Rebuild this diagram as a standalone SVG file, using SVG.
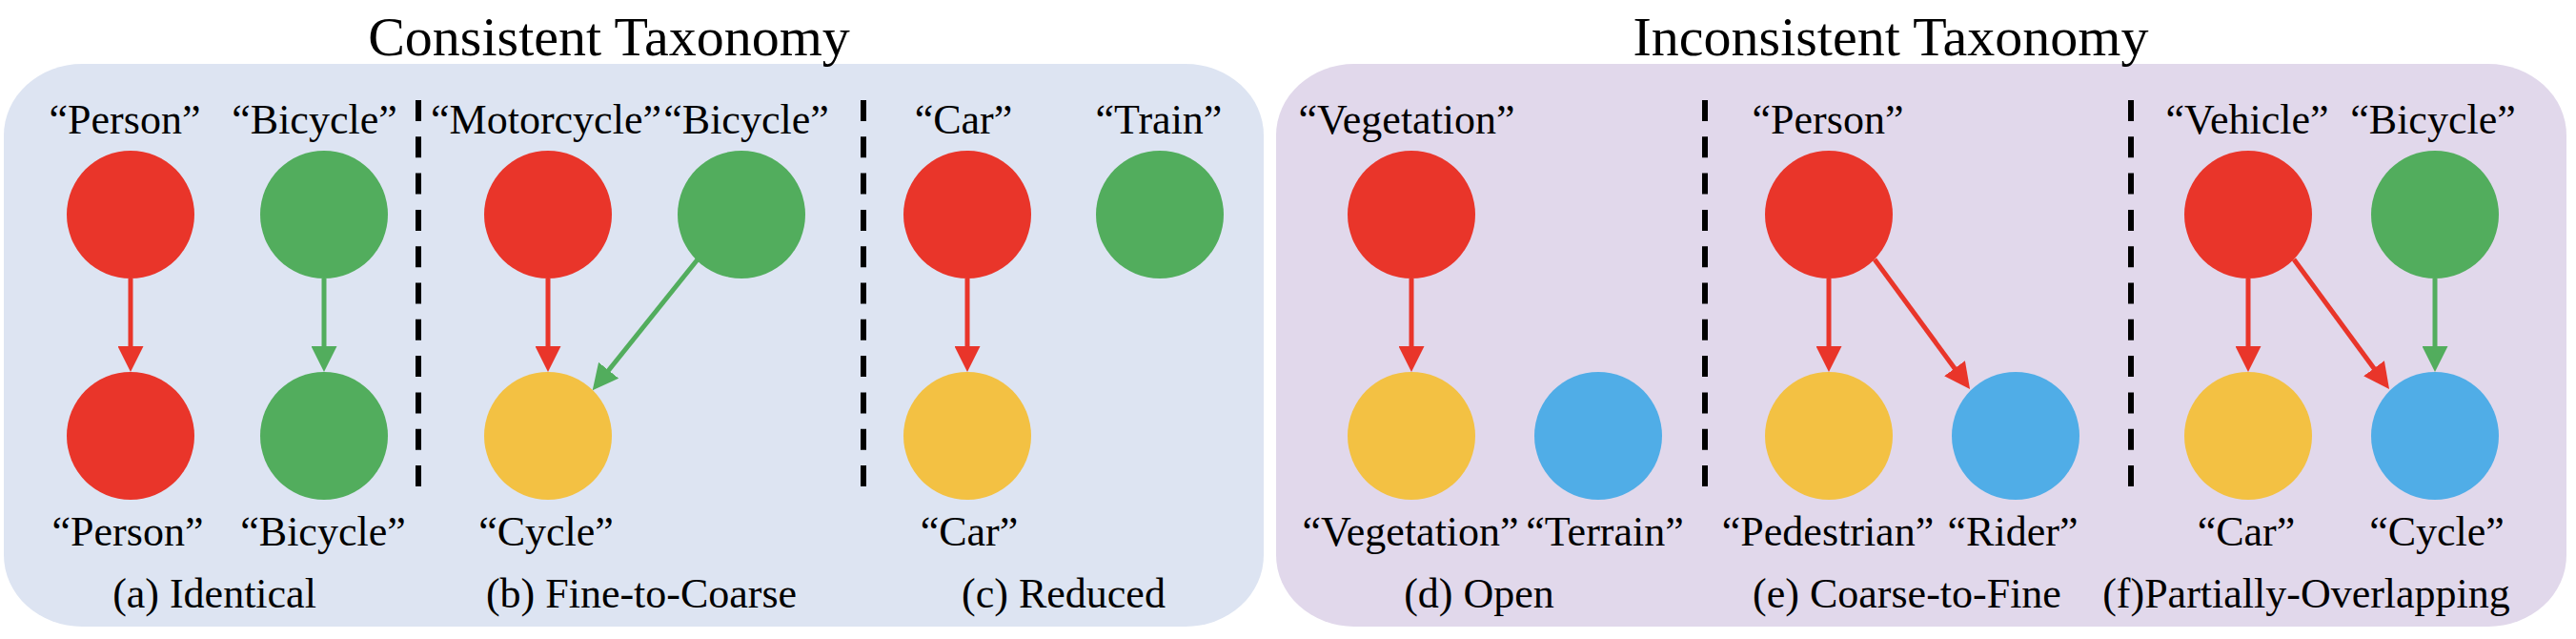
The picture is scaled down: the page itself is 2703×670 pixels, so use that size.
<svg xmlns="http://www.w3.org/2000/svg" width="2703" height="670" viewBox="0 0 2703 670">
<style>
text{font-family:"Liberation Serif","Times New Roman",serif;fill:#000;text-anchor:middle}
.t{font-size:58px}
.l{font-size:44px}
.red{fill:#E9352A}.green{fill:#52AD5D}.yellow{fill:#F3C143}.blue{fill:#50ADE7}
.ar{stroke:#E9352A;stroke-width:5;fill:none;marker-end:url(#hr)}
.ag{stroke:#52AD5D;stroke-width:5;fill:none;marker-end:url(#hg)}
.dash{stroke:#000;stroke-width:6;stroke-dasharray:22 16.3}
</style>
<defs>
<marker id="hr" viewBox="0 0 27 27" refX="17" refY="13.5" markerWidth="27" markerHeight="27" markerUnits="userSpaceOnUse" orient="auto"><path d="M0,0 L27,13.5 L0,27 Z" fill="#E9352A"/></marker>
<marker id="hg" viewBox="0 0 27 27" refX="17" refY="13.5" markerWidth="27" markerHeight="27" markerUnits="userSpaceOnUse" orient="auto"><path d="M0,0 L27,13.5 L0,27 Z" fill="#52AD5D"/></marker>
</defs>
<g id="panels">
<rect x="4" y="67" width="1322" height="590" rx="82" ry="75" fill="#DDE4F2"/>
<rect x="1339" y="67" width="1354" height="590" rx="82" ry="75" fill="#E1D8EB"/>
<text class="t" x="639" y="58">Consistent Taxonomy</text>
<text class="t" x="1984" y="58">Inconsistent Taxonomy</text>
</g>
<g id="separators">
<line class="dash" x1="439" y1="105" x2="439" y2="512"/>
<line class="dash" x1="906" y1="105" x2="906" y2="512"/>
<line class="dash" x1="1789" y1="105" x2="1789" y2="512"/>
<line class="dash" x1="2236" y1="105" x2="2236" y2="512"/>
</g>
<g id="connectors">
<line class="ar" x1="137" y1="292" x2="137" y2="380"/>
<line class="ag" x1="340" y1="292" x2="340" y2="380"/>
<line class="ar" x1="575" y1="292" x2="575" y2="380"/>
<line class="ag" x1="732" y1="272" x2="628" y2="401.5"/>
<line class="ar" x1="1015" y1="292" x2="1015" y2="380"/>
<line class="ar" x1="1481" y1="292" x2="1481" y2="380"/>
<line class="ar" x1="1919" y1="292" x2="1919" y2="380"/>
<line class="ar" x1="1967" y1="272" x2="2061.1" y2="399.9"/>
<line class="ar" x1="2359" y1="292" x2="2359" y2="380"/>
<line class="ar" x1="2407" y1="272" x2="2501.1" y2="399.9"/>
<line class="ag" x1="2555" y1="292" x2="2555" y2="380"/>
</g>
<g id="a-identical">
<g id="a-person-src"><text class="l" x="131" y="140">“Person”</text><circle class="red" cx="137" cy="225" r="67"/></g>
<g id="a-bicycle-src"><text class="l" x="330" y="140">“Bicycle”</text><circle class="green" cx="340" cy="225" r="67"/></g>
<g id="a-person-dst"><circle class="red" cx="137" cy="457" r="67"/><text class="l" x="134" y="572">“Person”</text></g>
<g id="a-bicycle-dst"><circle class="green" cx="340" cy="457" r="67"/><text class="l" x="339" y="572">“Bicycle”</text></g>
<text class="l" x="225" y="637">(a) Identical</text>
</g>
<g id="b-fine-to-coarse">
<g id="b-motorcycle"><text class="l" x="573" y="140">“Motorcycle”</text><circle class="red" cx="575" cy="225" r="67"/></g>
<g id="b-bicycle"><text class="l" x="783" y="140">“Bicycle”</text><circle class="green" cx="778" cy="225" r="67"/></g>
<g id="b-cycle"><circle class="yellow" cx="575" cy="457" r="67"/><text class="l" x="573" y="572">“Cycle”</text></g>
<text class="l" x="673" y="637">(b) Fine-to-Coarse</text>
</g>
<g id="c-reduced">
<g id="c-car-src"><text class="l" x="1011" y="140">“Car”</text><circle class="red" cx="1015" cy="225" r="67"/></g>
<g id="c-train"><text class="l" x="1216" y="140">“Train”</text><circle class="green" cx="1217" cy="225" r="67"/></g>
<g id="c-car-dst"><circle class="yellow" cx="1015" cy="457" r="67"/><text class="l" x="1017" y="572">“Car”</text></g>
<text class="l" x="1116" y="637">(c) Reduced</text>
</g>
<g id="d-open">
<g id="d-vegetation-src"><text class="l" x="1476" y="140">“Vegetation”</text><circle class="red" cx="1481" cy="225" r="67"/></g>
<g id="d-vegetation-dst"><circle class="yellow" cx="1481" cy="457" r="67"/><text class="l" x="1480" y="572">“Vegetation”</text></g>
<g id="d-terrain"><circle class="blue" cx="1677" cy="457" r="67"/><text class="l" x="1684" y="572">“Terrain”</text></g>
<text class="l" x="1552" y="637">(d) Open</text>
</g>
<g id="e-coarse-to-fine">
<g id="e-person"><text class="l" x="1918" y="140">“Person”</text><circle class="red" cx="1919" cy="225" r="67"/></g>
<g id="e-pedestrian"><circle class="yellow" cx="1919" cy="457" r="67"/><text class="l" x="1918" y="572">“Pedestrian”</text></g>
<g id="e-rider"><circle class="blue" cx="2115" cy="457" r="67"/><text class="l" x="2112" y="572">“Rider”</text></g>
<text class="l" x="2001" y="637">(e) Coarse-to-Fine</text>
</g>
<g id="f-partially-overlapping">
<g id="f-vehicle"><text class="l" x="2358" y="140">“Vehicle”</text><circle class="red" cx="2359" cy="225" r="67"/></g>
<g id="f-bicycle"><text class="l" x="2553" y="140">“Bicycle”</text><circle class="green" cx="2555" cy="225" r="67"/></g>
<g id="f-car"><circle class="yellow" cx="2359" cy="457" r="67"/><text class="l" x="2357" y="572">“Car”</text></g>
<g id="f-cycle"><circle class="blue" cx="2555" cy="457" r="67"/><text class="l" x="2557" y="572">“Cycle”</text></g>
<text class="l" x="2420" y="637">(f)Partially-Overlapping</text>
</g>
</svg>
